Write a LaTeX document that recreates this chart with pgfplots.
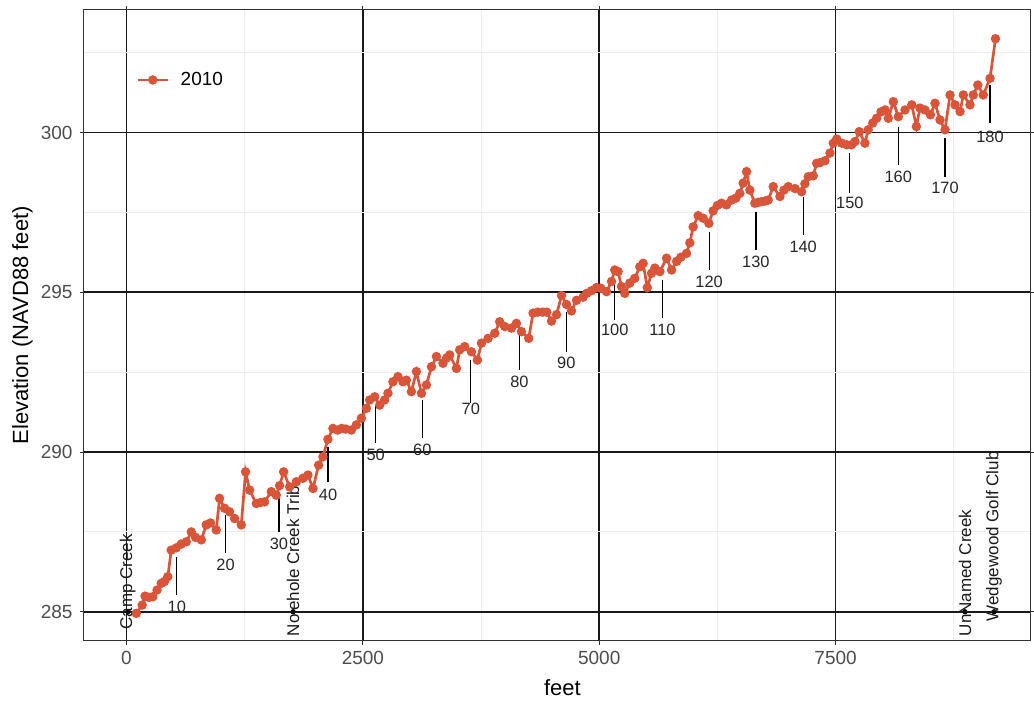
\documentclass[border=0pt]{standalone}
\usepackage{pgfplots}
\pgfplotsset{compat=1.18}
\usepackage{fontspec}
\setmainfont{Liberation Sans}
\definecolor{lineclr}{HTML}{D9553A}
\definecolor{tickgray}{HTML}{4D4D4D}
\begin{document}
\begin{tikzpicture}
\useasboundingbox (-41.75bp,-31.25bp) rectangle (475.25bp,320.25bp);
\begin{axis}[
  scale only axis, width=473.25bp, height=315.25bp,
  xmin=-455, xmax=9556, ymin=284.10, ymax=303.84,
  xtick={0,2500,5000,7500}, ytick={285,290,295,300},
  minor xtick={1250,3750,6250,8750}, minor ytick={287.5,292.5,297.5,302.5},
  grid=both,
  major grid style={black!90, line width=0.85bp},
  minor grid style={black!7, line width=0.5bp},
  axis line style={black!80, line width=0.5bp},
  tick align=outside, major tick length=2bp, minor tick length=0pt,
  tick style={black!80, line width=0.5bp},
  scaled ticks=false,
  /pgf/number format/1000 sep={},
  /pgf/number format/assume math mode=true,
  ticklabel style={font=\fontsize{9.5bp}{11bp}\selectfont, text=tickgray},
  xlabel={feet}, ylabel={Elevation (NAVD88 feet)},
  label style={font=\fontsize{11bp}{13bp}\selectfont},
  x label style={at={([yshift=-23.75bp]axis description cs:0.506,0)}, anchor=center},
  y label style={at={([xshift=-30.5bp]axis description cs:0,0.5)}, anchor=center},
  legend style={draw=none, fill=none, at={(axis description cs:0.0555,0.889)}, anchor=west,
    font=\fontsize{9.5bp}{11bp}\selectfont, inner sep=0pt,
    /tikz/every odd column/.append style={column sep=3.8bp}},
  legend cell align=left,
  legend image code/.code={\draw[mark repeat=2,mark phase=2,#1] plot coordinates {(0bp,0bp) (7.5bp,0bp) (15bp,0bp)};},
]
% station marker lines
\addplot[forget plot, black, line width=0.6bp, unbounded coords=jump] coordinates {
(532,286.72) (532,285.52) (532,nan)
(1048,288.03) (1048,286.83) (1048,nan)
(1612,288.76) (1612,287.51) (1612,nan)
(2132,290.16) (2132,289.06) (2132,nan)
(2635,291.47) (2635,290.27) (2635,nan)
(3129,291.63) (3129,290.43) (3129,nan)
(3641,292.88) (3641,291.53) (3641,nan)
(4156,293.77) (4156,292.57) (4156,nan)
(4651,294.40) (4651,293.14) (4651,nan)
(5164,295.39) (5164,294.14) (5164,nan)
(5669,295.39) (5669,294.19) (5669,nan)
(6162,296.90) (6162,295.70) (6162,nan)
(6657,297.53) (6657,296.33) (6657,nan)
(7157,298.00) (7157,296.80) (7157,nan)
(7651,299.36) (7651,298.10) (7651,nan)
(8163,300.19) (8163,299.00) (8163,nan)
(8657,299.83) (8657,298.62) (8657,nan)
(9133,301.50) (9133,300.30)
};
% station labels
\addplot[forget plot, only marks, mark=none, point meta=explicit symbolic, nodes near coords,
  nodes near coords style={anchor=center, font=\fontsize{8.2bp}{10bp}\selectfont, text=black!85}]
  coordinates {
(532,285.16) [10]
(1048,286.46) [20]
(1612,287.14) [30]
(2132,288.65) [40]
(2635,289.91) [50]
(3129,290.06) [60]
(3641,291.34) [70]
(4156,292.20) [80]
(4651,292.78) [90]
(5164,293.82) [100]
(5669,293.82) [110]
(6162,295.34) [120]
(6657,295.96) [130]
(7157,296.43) [140]
(7651,297.79) [150]
(8163,298.62) [160]
(8657,298.26) [170]
(9133,299.88) [180]
};
% creek markers
\addplot[forget plot, only marks, mark=*, mark size=1.1bp, black] coordinates {
(14,285) (1762,285) (8868,285) (9176,285)
};
% creek labels
\addplot[forget plot, only marks, mark=none, point meta=explicit symbolic, nodes near coords,
  nodes near coords style={rotate=90, anchor=west, inner sep=0pt, font=\fontsize{8.5bp}{10bp}\selectfont, text=black!90}]
  coordinates {
(14,284.43) [Camp Creek]
(1762,284.22) [Nolehole Creek Trib]
(8868,284.22) [UnNamed Creek]
(9176,284.69) [Wedgewood Golf Club]
};
% profile
\addplot[lineclr, line width=1.35bp, mark=*, mark size=1.65bp, mark options={fill=lineclr, draw=lineclr, solid}] table {
x y
103 284.95
166 285.21
196 285.49
238 285.45
278 285.47
323 285.68
367 285.89
402 285.95
437 286.10
473 286.93
526 287.00
579 287.12
632 287.19
685 287.50
730 287.33
791 287.25
843 287.72
889 287.78
949 287.56
984 288.55
1037 288.24
1090 288.13
1143 287.92
1214 287.72
1259 289.38
1302 288.81
1373 288.39
1418 288.42
1460 288.44
1531 288.76
1584 288.65
1619 288.95
1662 289.38
1725 288.91
1796 289.07
1866 289.18
1919 289.28
1972 288.86
2032 289.59
2077 289.85
2130 290.40
2183 290.74
2233 290.69
2275 290.74
2318 290.72
2378 290.69
2431 290.85
2484 291.06
2537 291.37
2572 291.63
2625 291.73
2678 291.47
2730 291.63
2765 291.84
2818 292.20
2871 292.36
2924 292.20
2960 292.25
3013 291.89
3066 292.52
3119 291.84
3172 292.10
3225 292.67
3278 292.99
3347 292.78
3387 292.95
3418 293.04
3489 292.62
3524 293.20
3577 293.30
3648 293.14
3711 292.88
3754 293.41
3824 293.56
3895 293.72
3947 294.08
4000 293.93
4071 293.88
4124 294.03
4177 293.77
4254 293.56
4300 294.35
4350 294.38
4403 294.38
4445 294.38
4495 294.10
4548 294.30
4601 294.90
4654 294.62
4706 294.42
4759 294.75
4829 294.85
4868 294.97
4918 295.05
4971 295.15
5016 295.13
5077 295.02
5130 295.34
5164 295.70
5199 295.65
5235 295.18
5270 294.97
5323 295.29
5376 295.44
5429 295.80
5464 295.91
5508 295.15
5553 295.60
5588 295.76
5641 295.65
5712 296.07
5765 295.70
5818 295.97
5863 296.10
5923 296.22
5958 296.55
5993 297.05
6046 297.40
6099 297.32
6159 297.16
6204 297.55
6249 297.72
6293 297.79
6346 297.74
6399 297.89
6445 297.95
6487 298.10
6522 298.42
6558 298.78
6593 298.20
6646 297.79
6683 297.82
6717 297.84
6752 297.86
6787 297.89
6840 298.31
6911 298.00
6953 298.20
6999 298.31
7070 298.25
7140 298.15
7175 298.40
7210 298.62
7263 298.65
7299 299.04
7334 299.06
7387 299.12
7440 299.36
7475 299.67
7511 299.80
7564 299.67
7617 299.62
7669 299.62
7705 299.72
7750 300.03
7810 299.67
7845 300.09
7892 300.30
7934 300.45
7980 300.65
8022 300.71
8057 300.45
8110 300.97
8163 300.50
8234 300.71
8305 300.87
8354 300.19
8392 300.77
8445 300.71
8503 300.56
8551 300.92
8604 300.40
8657 300.09
8710 301.18
8763 300.87
8816 300.66
8851 301.18
8921 300.87
8956 301.18
9004 301.49
9062 301.18
9133 301.70
9191 302.94
};
\addlegendentry{2010}
\end{axis}
\end{tikzpicture}
\end{document}
